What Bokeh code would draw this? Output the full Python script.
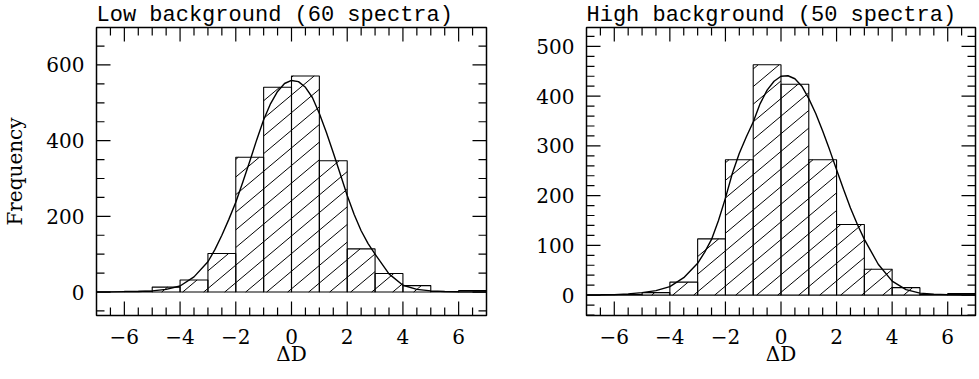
import math
from bokeh.plotting import figure
from bokeh.models import Range1d, SingleIntervalTicker, ColumnDataSource
from bokeh.layouts import row
from bokeh.embed import file_html
from bokeh.resources import INLINE

# ---------------- data ----------------
bin_left = [-7, -6, -5, -4, -3, -2, -1, 0, 1, 2, 3, 4, 5, 6]
bin_right = [-6, -5, -4, -3, -2, -1, 0, 1, 2, 3, 4, 5, 6, 7]

low_counts = [0, 2, 13, 32, 102, 356, 541, 571, 347, 114, 49, 17, 1, 4]
high_counts = [0, 1, 5, 26, 113, 272, 463, 424, 272, 142, 52, 15, 1, 3]

low_fit_x = [-7, -6.5, -6, -5.5, -5, -4.5, -4, -3.5, -3, -2.75, -2.5, -2.25, -2, -1.75,
             -1.5, -1.25, -1, -0.75, -0.5, -0.25, 0, 0.25, 0.5, 0.75, 1, 1.25, 1.5,
             1.75, 2, 2.25, 2.5, 2.75, 3, 3.5, 4, 4.5, 5, 5.5, 6, 6.5, 7]
low_fit_y = [0.3, 0.5, 1, 1.5, 3, 7, 16, 40, 80, 112, 150, 192, 237, 290,
             345, 402, 455, 498, 530, 551, 559, 556, 541, 514, 472, 422, 368,
             312, 255, 205, 162, 128, 100, 48, 18, 7, 3, 1.5, 0.8, 0.5, 0.3]

high_fit_x = [-7, -6.5, -6, -5.5, -5, -4.5, -4, -3.5, -3, -2.75, -2.5, -2.25, -2, -1.75,
              -1.5, -1.25, -1, -0.75, -0.5, -0.25, 0, 0.25, 0.5, 0.75, 1, 1.25, 1.5,
              1.75, 2, 2.25, 2.5, 2.75, 3, 3.5, 4, 4.5, 5, 5.5, 6, 6.5, 7]
high_fit_y = [0.4, 0.6, 1, 2.5, 5, 9, 17, 35, 64, 86, 112, 150, 195, 245,
              285, 318, 348, 385, 412, 430, 440, 441, 435, 420, 395, 365, 330,
              292, 252, 213, 175, 142, 112, 62, 28, 11, 4, 2, 1, 0.6, 0.4]

x_ticks = [-6, -4, -2, 0, 2, 4, 6]
x_tick_labels = ["\u22126", "\u22124", "\u22122", "0", "2", "4", "6"]

titles = ["Low background (60 spectra)", "High background (50 spectra)"]
x_label = "\u0394D"
y_label = "Frequency"

SERIF = "DejaVu Serif"
MAJOR_LEN = 14   # px
MINOR_LEN = 8    # px
FRAME_H = 288
HATCH_SLOPE = math.tan(math.radians(40))
HATCH_SPACING = 21.0   # px, horizontal
HATCH_PHASE = 2.2      # px


def tick_positions(lo, hi, step):
    k0 = int(-(-lo // step))
    k1 = int(hi // step)
    return [k * step for k in range(k0, k1 + 1)]


def style_axis(ax):
    ax.major_tick_in = 0
    ax.major_tick_out = 0
    ax.minor_tick_in = 0
    ax.minor_tick_out = 0
    ax.axis_line_color = None
    ax.major_tick_line_color = None
    ax.minor_tick_line_color = None
    ax.major_label_text_font = SERIF
    ax.major_label_text_font_size = "20px"
    ax.major_label_text_color = "black"
    ax.axis_label_text_font = SERIF
    ax.axis_label_text_font_size = "20px"
    ax.axis_label_text_font_style = "normal"
    ax.axis_label_text_color = "black"


def inward_ticks(p, xmin, xmax, ymin, ymax, xstep, xminor, ystep, yminor, fw, fh):
    dx = (xmax - xmin) / fw
    dy = (ymax - ymin) / fh
    xmaj = [v for v in tick_positions(xmin, xmax, xstep) if xmin < v < xmax]
    xmi = [v for v in tick_positions(xmin, xmax, xminor) if v not in xmaj and xmin < v < xmax]
    ymaj = [v for v in tick_positions(ymin, ymax, ystep) if ymin < v < ymax]
    ymi = [v for v in tick_positions(ymin, ymax, yminor) if v not in ymaj and ymin < v < ymax]
    x0, x1, y0, y1 = [], [], [], []
    for xs, ln in ((xmaj, MAJOR_LEN), (xmi, MINOR_LEN)):
        for v in xs:
            x0 += [v, v]
            x1 += [v, v]
            y0 += [ymin, ymax]
            y1 += [ymin + ln * dy, ymax - ln * dy]
    for ys, ln in ((ymaj, MAJOR_LEN), (ymi, MINOR_LEN)):
        for v in ys:
            y0 += [v, v]
            y1 += [v, v]
            x0 += [xmin, xmax]
            x1 += [xmin + ln * dx, xmax - ln * dx]
    p.segment(x0=x0, y0=y0, x1=x1, y1=y1, line_color="black", line_width=1.2)


def hatch(p, counts, xmin, xmax, ymin, ymax, fw, fh):
    dx = (xmax - xmin) / fw
    dy = (ymax - ymin) / fh
    m, S, ph = HATCH_SLOPE, HATCH_SPACING, HATCH_PHASE
    base = (0 - ymin) / dy
    x0, y0, x1, y1 = [], [], [], []
    for l, r, t in zip(bin_left, bin_right, counts):
        a = (l - xmin) / dx
        b = (r - xmin) / dx
        p0 = base
        p1 = (t - ymin) / dy
        if p1 - p0 < 2:
            continue
        kmin = math.floor((a - ph - (p1 - base) / m) / S) - 1
        kmax = math.ceil((b - ph) / S) + 1
        for k in range(kmin, kmax + 1):
            c = ph + k * S - base / m
            lo = max(p0, m * (a - c))
            hi = min(p1, m * (b - c))
            if hi - lo > 0.8:
                x0.append(xmin + (c + lo / m) * dx)
                x1.append(xmin + (c + hi / m) * dx)
                y0.append(ymin + lo * dy)
                y1.append(ymin + hi * dy)
    p.segment(x0=x0, y0=y0, x1=x1, y1=y1, line_color="black", line_width=1.0)


def panel(title, counts, fx, fy, ymin, ymax, ymajor, yminor, fw, border_left, ylabel):
    xmin, xmax = -7, 7
    p = figure(frame_width=fw, frame_height=FRAME_H,
               x_range=Range1d(xmin, xmax), y_range=Range1d(ymin, ymax),
               output_backend="svg", toolbar_location=None,
               min_border_left=border_left, min_border_right=2,
               min_border_top=0, min_border_bottom=0)
    p.grid.visible = False
    p.outline_line_color = "black"
    p.outline_line_width = 1.5
    p.background_fill_color = "white"
    p.border_fill_color = "white"

    p.title.text = title
    p.title.text_font = "Liberation Mono"
    p.title.text_font_size = "22px"
    p.title.text_font_style = "normal"
    p.title.text_color = "black"
    p.title.align = "left"
    p.title.standoff = 0
    p.title.offset = 0

    hatch(p, counts, xmin, xmax, ymin, ymax, fw, FRAME_H)

    src = ColumnDataSource(dict(left=bin_left, right=bin_right, top=counts,
                                bottom=[0] * len(counts)))
    p.quad(left="left", right="right", top="top", bottom="bottom", source=src,
           fill_color=None, line_color="black", line_width=1.1)
    p.line(fx, fy, line_color="black", line_width=1.4)

    inward_ticks(p, xmin, xmax, ymin, ymax, 2, 0.5, ymajor, yminor, fw, FRAME_H)

    xb = p.xaxis[0]
    xb.ticker = SingleIntervalTicker(interval=2)
    xb.major_label_overrides = dict(zip(x_ticks, x_tick_labels))
    xb.axis_label = x_label
    style_axis(xb)
    xb.major_label_standoff = 13
    xb.axis_label_standoff = -5

    yl = p.yaxis[0]
    yl.ticker = SingleIntervalTicker(interval=ymajor)
    style_axis(yl)
    yl.major_label_standoff = 12
    if ylabel:
        yl.axis_label = ylabel
        yl.axis_label_standoff = 16
    return p


p1 = panel(titles[0], low_counts, low_fit_x, low_fit_y, -62, 699, 200, 50, 390, 88, y_label)
p2 = panel(titles[1], high_counts, high_fit_x, high_fit_y, -41, 538, 100, 20, 389, 98, None)

layout = row(p1, p2)
open("out.html", "w").write(file_html(layout, INLINE))
